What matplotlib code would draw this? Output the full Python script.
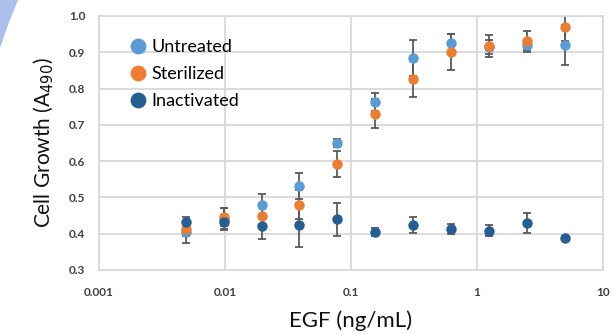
import matplotlib.pyplot as plt
import matplotlib.patches as mpatches
from matplotlib.ticker import FixedLocator, FixedFormatter, NullLocator
import numpy as np

plt.rcParams["font.family"] = ["Lato", "DejaVu Sans"]

# EGF doses (2-fold serial dilution from 5 ng/mL)
egf = [0.0049, 0.0098, 0.0195, 0.039, 0.078, 0.156, 0.3125, 0.625, 1.25, 2.5, 5.0]

untreated = [0.405, 0.440, 0.479, 0.532, 0.650, 0.763, 0.884, 0.925, 0.915, 0.920, 0.920]
untreated_err = [0.030, 0.030, 0.030, 0.035, 0.010, 0.025, 0.050, 0.025, 0.020, 0.015, 0.055]

sterilized = [0.413, 0.445, 0.450, 0.480, 0.592, 0.730, 0.826, 0.900, 0.917, 0.930, 0.970]
sterilized_err = [0.020, 0.025, 0.025, 0.040, 0.035, 0.040, 0.050, 0.050, 0.030, 0.030, 0.040]

inactivated = [0.432, 0.432, 0.420, 0.424, 0.440, 0.405, 0.424, 0.413, 0.408, 0.430, 0.388]
inactivated_err = [0.015, 0.020, 0.035, 0.060, 0.045, 0.012, 0.022, 0.015, 0.015, 0.028, 0.005]

series = [
    ("Untreated", untreated, untreated_err, "#5B9BD5"),
    ("Sterilized", sterilized, sterilized_err, "#ED7D31"),
    ("Inactivated", inactivated, inactivated_err, "#255E91"),
]

fig = plt.figure(figsize=(6.15, 3.35), dpi=100)
ax = fig.add_axes([99 / 615, 1 - 270 / 335, 504 / 615, 254 / 335])

# little blue swoosh in the top-left corner
fig.patches.append(mpatches.Polygon([(0, 1), (18 / 615, 1), (8 / 615, 1 - 25 / 335), (0, 1 - 48 / 335)],
                                    closed=True, transform=fig.transFigure,
                                    facecolor="#a9c1ea", edgecolor="none"))

for name, vals, err, col in series:
    ax.errorbar(egf, vals, yerr=err, fmt="none", ecolor="#5a5a5a", elinewidth=1.3,
                capsize=3, capthick=1.3, zorder=2)
for name, vals, err, col in series:
    ax.plot(egf, vals, "o", color=col, markersize=6.5, label=name, zorder=3)

ax.set_xscale("log")
ax.set_xlim(0.001, 10)
ax.set_ylim(0.3, 1.0)
ax.xaxis.set_major_locator(FixedLocator([0.001, 0.01, 0.1, 1, 10]))
ax.xaxis.set_major_formatter(FixedFormatter(["0.001", "0.01", "0.1", "1", "10"]))
ax.xaxis.set_minor_locator(NullLocator())
ax.set_yticks(np.arange(0.3, 1.01, 0.1))
ax.set_yticklabels(["%.1f" % v for v in np.arange(0.3, 1.01, 0.1)])

ax.grid(True, color="#d9d9d9", linewidth=1.3)
ax.set_axisbelow(True)
for s in ax.spines.values():
    s.set_color("#d9d9d9")
    s.set_linewidth(1.3)
ax.tick_params(axis="x", length=0, labelsize=8.5, colors="#404040", pad=12)
ax.tick_params(axis="y", length=0, labelsize=8.5, colors="#404040", pad=10)
for lab in ax.get_xticklabels() + ax.get_yticklabels():
    lab.set_fontweight("bold")

ax.set_xlabel("EGF (ng/mL)", fontsize=16, color="#111111", labelpad=9)
ax.set_ylabel("Cell Growth (A$_{490}$)", fontsize=15, color="#111111", labelpad=9)

ax.legend(loc="upper left", bbox_to_anchor=(0.035, 0.958), frameon=False, fontsize=13,
          markerscale=1.6, handletextpad=0.25, labelspacing=0.6, borderpad=0.2,
          handlelength=1.0)

fig.savefig("out.png", dpi=100)
